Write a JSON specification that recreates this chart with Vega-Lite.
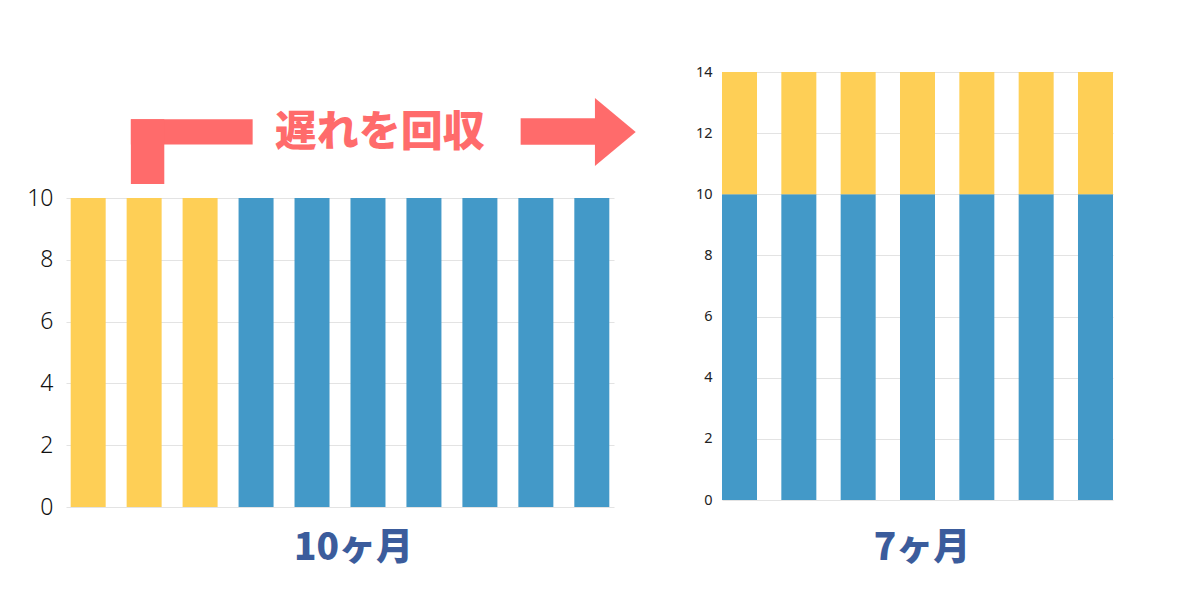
{
  "$schema": "https://vega.github.io/schema/vega-lite/v6.json",
  "background": "white",
  "padding": {"left": 26, "top": 64, "right": 5, "bottom": 5},
  "bounds": "flush",
  "spacing": 108,
  "config": {
    "view": {"stroke": null},
    "axis": {"gridColor": "#e3e3e3", "gridWidth": 1}
  },
  "datasets": {
    "left": [
      {"月": 1, "日数": 10, "区分": "遅れ"},
      {"月": 2, "日数": 10, "区分": "遅れ"},
      {"月": 3, "日数": 10, "区分": "遅れ"},
      {"月": 4, "日数": 10, "区分": "通常"},
      {"月": 5, "日数": 10, "区分": "通常"},
      {"月": 6, "日数": 10, "区分": "通常"},
      {"月": 7, "日数": 10, "区分": "通常"},
      {"月": 8, "日数": 10, "区分": "通常"},
      {"月": 9, "日数": 10, "区分": "通常"},
      {"月": 10, "日数": 10, "区分": "通常"}
    ],
    "right": [
      {"月": 1, "日数": 10, "区分": "通常"}, {"月": 1, "日数": 4, "区分": "遅れ"},
      {"月": 2, "日数": 10, "区分": "通常"}, {"月": 2, "日数": 4, "区分": "遅れ"},
      {"月": 3, "日数": 10, "区分": "通常"}, {"月": 3, "日数": 4, "区分": "遅れ"},
      {"月": 4, "日数": 10, "区分": "通常"}, {"月": 4, "日数": 4, "区分": "遅れ"},
      {"月": 5, "日数": 10, "区分": "通常"}, {"月": 5, "日数": 4, "区分": "遅れ"},
      {"月": 6, "日数": 10, "区分": "通常"}, {"月": 6, "日数": 4, "区分": "遅れ"},
      {"月": 7, "日数": 10, "区分": "通常"}, {"月": 7, "日数": 4, "区分": "遅れ"}
    ],
    "arrowBars": [
      {"部品": "L横", "x": 1.763, "x2": 3.939, "y": 12.55, "y2": 11.73},
      {"部品": "L縦", "x": 1.763, "x2": 2.36, "y": 12.55, "y2": 10.45},
      {"部品": "矢印胴", "x": 8.728, "x2": 10.08, "y": 12.58, "y2": 11.72}
    ],
    "arrowHead": [
      {"部品": "矢印先", "x": 10.42, "y": 12.14}
    ],
    "label": [
      {"文字": "遅れを回収", "x": 6.21, "y": 12.1}
    ]
  },
  "hconcat": [
    {
      "width": 548,
      "height": 435,
      "layer": [
        {
          "data": {"name": "left"},
          "mark": {"type": "bar", "orient": "vertical", "width": 35},
          "encoding": {
            "x": {
              "field": "月", "type": "quantitative",
              "scale": {"domain": [0.693, 10.307], "nice": false, "zero": false},
              "axis": {
                "labels": false, "ticks": false, "domain": false, "grid": false,
                "title": "10ヶ月", "titleFont": "Noto Sans CJK JP", "titleFontSize": 37,
                "titleFontWeight": 900, "titleColor": "#3b5c9c", "titlePadding": 23,
                "titleX": 287, "titleAlign": "center"
              }
            },
            "y": {
              "field": "日数", "type": "quantitative",
              "scale": {"domain": [0, 14.078], "nice": false},
              "axis": {
                "values": [0, 2, 4, 6, 8, 10], "title": null, "ticks": false, "domain": false,
                "labelFont": "Noto Sans", "labelFontSize": 23, "labelFontWeight": 300,
                "labelColor": "#111111", "labelPadding": 13
              }
            },
            "color": {
              "field": "区分", "type": "nominal",
              "scale": {"domain": ["通常", "遅れ"], "range": ["#4399c8", "#fecf56"]},
              "legend": null
            },
            "order": {"field": "区分", "sort": "ascending"}
          }
        },
        {
          "data": {"name": "arrowBars"},
          "mark": {"type": "rect", "color": "#ff6b6b"},
          "encoding": {
            "x": {"field": "x", "type": "quantitative"},
            "x2": {"field": "x2"},
            "y": {"field": "y", "type": "quantitative"},
            "y2": {"field": "y2"}
          }
        },
        {
          "data": {"name": "arrowHead"},
          "mark": {"type": "point", "shape": "M-0.6,-1L0.6,0L-0.6,1Z", "filled": true, "color": "#ff6b6b", "opacity": 1, "size": 4624, "strokeWidth": 0},
          "encoding": {
            "x": {"field": "x", "type": "quantitative"},
            "y": {"field": "y", "type": "quantitative"}
          }
        },
        {
          "data": {"name": "label"},
          "mark": {"type": "text", "font": "Noto Sans CJK JP", "fontSize": 42, "fontWeight": 900, "color": "#ff6b6b", "align": "center", "baseline": "middle"},
          "encoding": {
            "x": {"field": "x", "type": "quantitative"},
            "y": {"field": "y", "type": "quantitative"},
            "text": {"field": "文字"}
          }
        }
      ]
    },
    {
      "width": 391,
      "height": 428,
      "data": {"name": "right"},
      "mark": {"type": "bar"},
      "encoding": {
        "x": {
          "field": "月", "type": "ordinal",
          "scale": {"paddingInner": 0.41, "paddingOuter": 0},
          "axis": {
            "labels": false, "ticks": false, "domain": false,
            "title": "7ヶ月", "titleFont": "Noto Sans CJK JP", "titleFontSize": 37,
            "titleFontWeight": 900, "titleColor": "#3b5c9c", "titlePadding": 30,
            "titleX": 199.5, "titleAlign": "center"
          }
        },
        "y": {
          "field": "日数", "type": "quantitative", "aggregate": "sum",
          "scale": {"domain": [0, 14], "nice": false},
          "axis": {
            "values": [0, 2, 4, 6, 8, 10, 12, 14], "title": null, "ticks": false, "domain": false,
            "labelFont": "Noto Sans", "labelFontSize": 14.5,
            "labelColor": "#222222", "labelPadding": 10
          }
        },
        "color": {
          "field": "区分", "type": "nominal",
          "scale": {"domain": ["通常", "遅れ"], "range": ["#4399c8", "#fecf56"]},
          "legend": null
        },
        "order": {"field": "区分", "sort": "ascending"}
      }
    }
  ]
}
